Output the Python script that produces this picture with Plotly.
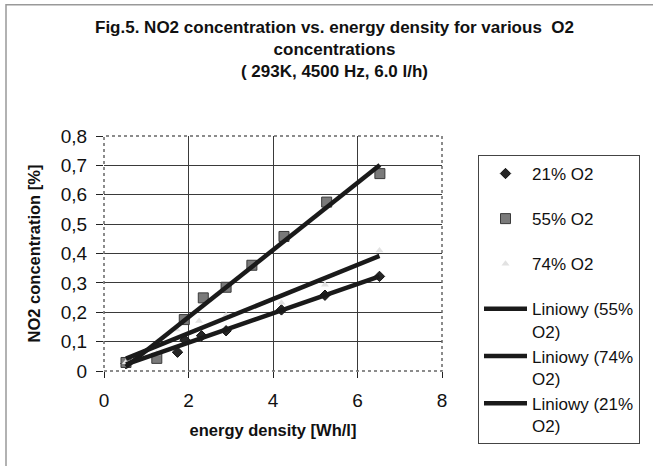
import numpy as np
import plotly.graph_objects as go

# data
x21 = [0.52, 1.74, 1.92, 2.31, 2.89, 4.20, 5.23, 6.52]
y21 = [0.025, 0.064, 0.105, 0.120, 0.137, 0.208, 0.258, 0.322]

x55 = [0.52, 1.25, 1.90, 2.35, 2.89, 3.50, 4.26, 5.27, 6.53]
y55 = [0.029, 0.043, 0.175, 0.249, 0.285, 0.360, 0.458, 0.575, 0.672]

x74 = [0.52, 1.25, 1.72, 2.25, 2.89, 4.20, 5.23, 6.52]
y74 = [0.030, 0.060, 0.141, 0.170, 0.190, 0.232, 0.294, 0.410]

FONT = "Arial, Liberation Sans, sans-serif"

def trend(x, y):
    a, b = np.polyfit(x, y, 1)
    xs = np.array([min(x), max(x)])
    return xs, a * xs + b

fig = go.Figure()

fig.add_trace(go.Scatter(x=x21, y=y21, mode="markers", name="21% O2", legendgroup="g1",
                         marker=dict(symbol="diamond", size=8, color="#262626",
                                     line=dict(color="#111", width=1))))
fig.add_trace(go.Scatter(x=x55, y=y55, mode="markers", name="55% O2", legendgroup="g2",
                         marker=dict(symbol="square", size=10, color="#7a7a7a",
                                     line=dict(color="#3a3a3a", width=1))))
fig.add_trace(go.Scatter(x=x74, y=y74, mode="markers", name="74% O2", legendgroup="g3",
                         marker=dict(symbol="triangle-up", size=7, color="#e2e2e2",
                                     line=dict(width=0))))

# linear trend lines (Liniowy)
for name, (x, y) in [("Liniowy (55%<br>O2)", (x55, y55)),
                     ("Liniowy (74%<br>O2)", (x74, y74)),
                     ("Liniowy (21%<br>O2)", (x21, y21))]:
    xs, ys = trend(x, y)
    fig.add_trace(go.Scatter(x=xs, y=ys, mode="lines", name=name, legendgroup="g4",
                             line=dict(color="#1a1a1a", width=4.5)))

L, R, T, B = 104, 211, 136, 94.5
W, H = 653, 466
pw = W - L - R
ph = H - T - B

def px(xp):
    return (xp - L) / pw

def py(yp):
    return (H - B - yp) / ph

fig.update_layout(
    width=W, height=H,
    margin=dict(l=L, r=R, t=T, b=B, pad=0),
    paper_bgcolor="white", plot_bgcolor="white",
    separators=", ",
    font=dict(family=FONT, color="#111", size=18),
    xaxis=dict(range=[0, 8], dtick=2, showgrid=True, gridcolor="#3a3a3a", gridwidth=1,
               zeroline=False, ticks="outside", ticklen=6, tickcolor="#222",
               tickfont=dict(size=19), ticklabelstandoff=6,
               title=dict(text="<b>energy density [Wh/l]</b>", font=dict(size=16.5), standoff=14)),
    yaxis=dict(range=[0, 0.8], dtick=0.1, showgrid=True, gridcolor="#3a3a3a", gridwidth=1,
               zeroline=False, ticks="outside", ticklen=7, tickcolor="#222",
               tickfont=dict(size=19), ticklabelstandoff=5,
               title=dict(text="<b>NO2 concentration [%]</b>", font=dict(size=16.5), standoff=16)),
    legend=dict(x=px(478), y=py(155), xanchor="left", yanchor="top",
                bordercolor="#444", borderwidth=1, bgcolor="white",
                font=dict(size=17, family=FONT, color="#111"),
                traceorder="grouped", valign="top", itemwidth=43, tracegroupgap=20,
                entrywidth=122, entrywidthmode="pixels",
                maxheight=300),
    annotations=[
        dict(text="<b>Fig.5. NO2 concentration vs. energy density for various  O2<br>concentrations<br>( 293K, 4500 Hz, 6.0 l/h)</b>",
             xref="paper", yref="paper", x=px(334.5), y=py(16), xanchor="center", yanchor="top",
             showarrow=False, font=dict(size=17, family=FONT, color="#111")),
    ],
    shapes=[
        dict(type="rect", xref="paper", yref="paper", x0=0, x1=1, y0=0, y1=1,
             line=dict(color="#666", width=1.5, dash="dot"), layer="above"),
        dict(type="rect", xref="paper", yref="paper", x0=px(6), x1=px(670),
             y0=py(480), y1=py(4.5), line=dict(color="#999", width=1.5), layer="below"),
    ],
)

fig.write_html("out.html")
